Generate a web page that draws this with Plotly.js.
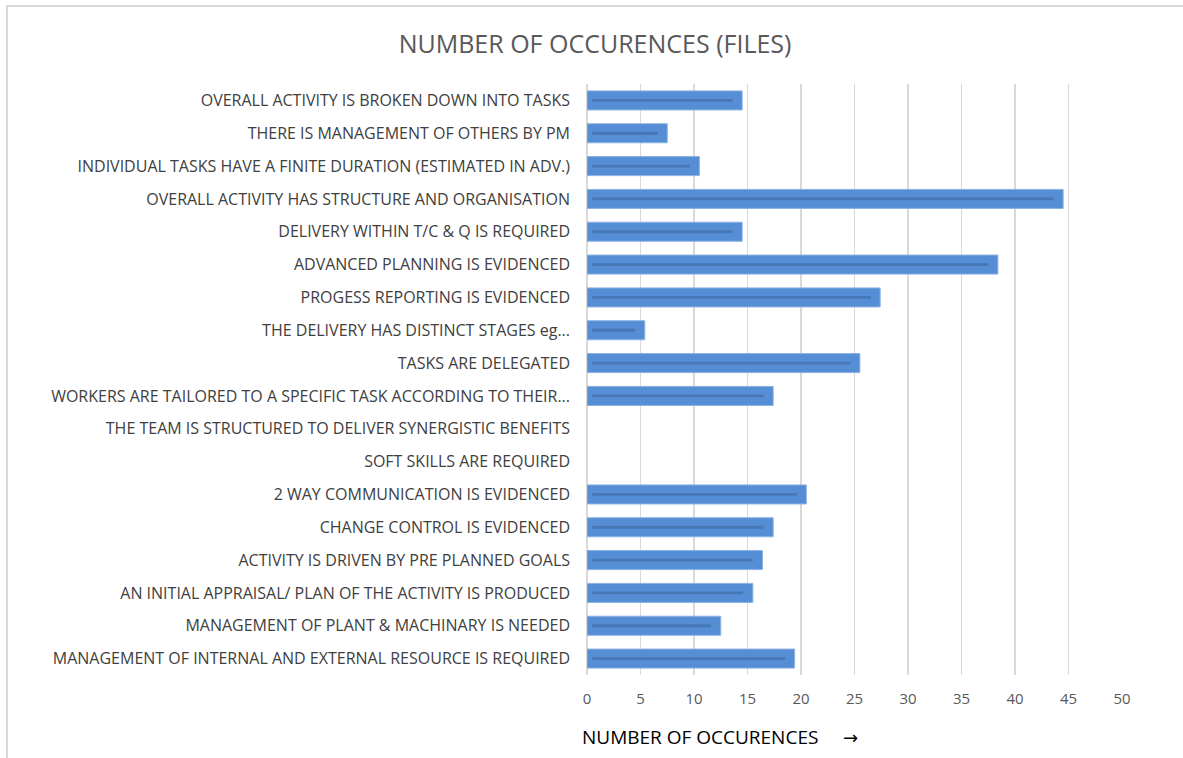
<!DOCTYPE html>
<html>
<head>
<meta charset="utf-8">
<script src="https://cdn.plot.ly/plotly-3.0.1.min.js"></script>
<style>
html,body{margin:0;padding:0;background:#fff;}
#chart{width:1183px;height:758px;position:absolute;left:0;top:0;}
#frame{position:absolute;left:6px;top:5px;width:1183px;height:760px;border-left:2px solid #d9d9d9;border-top:2px solid #d9d9d9;pointer-events:none;}
</style>
</head>
<body>
<div id="chart"></div>
<div id="frame"></div>
<script>
const categories = [
  "OVERALL ACTIVITY IS BROKEN DOWN INTO TASKS",
  "THERE IS MANAGEMENT OF OTHERS BY PM",
  "INDIVIDUAL TASKS HAVE A FINITE DURATION (ESTIMATED IN ADV.)",
  "OVERALL ACTIVITY HAS STRUCTURE AND ORGANISATION",
  "DELIVERY WITHIN T/C & Q IS REQUIRED",
  "ADVANCED PLANNING IS EVIDENCED",
  "PROGESS REPORTING IS EVIDENCED",
  "THE DELIVERY HAS DISTINCT STAGES eg...",
  "TASKS ARE DELEGATED",
  "WORKERS ARE TAILORED TO A SPECIFIC TASK ACCORDING TO THEIR...",
  "THE TEAM IS STRUCTURED TO DELIVER SYNERGISTIC BENEFITS",
  "SOFT SKILLS ARE REQUIRED",
  "2 WAY COMMUNICATION IS EVIDENCED",
  "CHANGE CONTROL IS EVIDENCED",
  "ACTIVITY IS DRIVEN BY PRE PLANNED GOALS",
  "AN INITIAL APPRAISAL/ PLAN OF THE ACTIVITY IS PRODUCED",
  "MANAGEMENT OF PLANT & MACHINARY IS NEEDED",
  "MANAGEMENT OF INTERNAL AND EXTERNAL RESOURCE IS REQUIRED"
];
const occurrences = [14.5, 7.5, 10.5, 44.5, 14.5, 38.4, 27.4, 5.4, 25.5, 17.4, 0, 0, 20.5, 17.4, 16.4, 15.5, 12.5, 19.4];
const xTicks = [0, 5, 10, 15, 20, 25, 30, 35, 40, 45, 50];

const FONT = "'Open Sans', sans-serif";

const bars = {
  type: 'bar', orientation: 'h',
  y: categories, x: occurrences,
  width: 0.58,
  marker: {color: '#558ed5', line: {color: '#8cb2e4', width: occurrences.map(v => v > 0 ? 1 : 0)}},
  hoverinfo: 'x+y'
};
const inner = {
  type: 'bar', orientation: 'h',
  y: categories,
  x: occurrences.map(v => v > 0 ? v - 1.4 : 0),
  base: occurrences.map(v => 0.5),
  width: 0.085,
  marker: {color: '#4877b6', line: {width: 0}},
  hoverinfo: 'skip'
};

const layout = {
  width: 1183, height: 758,
  margin: {l: 587, r: 61, t: 84, b: 83},
  paper_bgcolor: '#ffffff', plot_bgcolor: '#ffffff',
  barmode: 'overlay',
  showlegend: false,
  title: {text: 'NUMBER OF OCCURENCES (FILES)', x: 0.503, xanchor: 'center', y: 0.942, yanchor: 'middle',
          font: {family: FONT, size: 25, color: '#595959'}},
  xaxis: {
    range: [0, 50], tickvals: xTicks, ticktext: xTicks.map(String),
    showgrid: true, gridcolor: '#d9d9d9', gridwidth: 1.5,
    zeroline: true, zerolinecolor: '#d9d9d9', zerolinewidth: 1.5,
    showline: false, ticks: '', ticklabelstandoff: 13,
    tickfont: {family: FONT, size: 15, color: '#595959'},
    fixedrange: true
  },
  yaxis: {
    type: 'category', autorange: 'reversed',
    showgrid: false, zeroline: false, showline: false, ticks: '',
    ticklabelstandoff: 16,
    tickfont: {family: FONT, size: 16, color: '#404040'},
    fixedrange: true
  },
  annotations: [{
    xref: 'paper', yref: 'paper', x: 0.249, y: 0, yshift: -62,
    xanchor: 'center', yanchor: 'middle', showarrow: false,
    text: 'NUMBER OF OCCURENCES &nbsp;&nbsp;&nbsp;&nbsp;<span style="font-family:\'DejaVu Sans\';font-size:18px">→</span>',
    font: {family: FONT, size: 19, color: '#000000'}
  }]
};

Plotly.newPlot('chart', [bars, inner], layout, {displayModeBar: false, staticPlot: true});
</script>
</body>
</html>
